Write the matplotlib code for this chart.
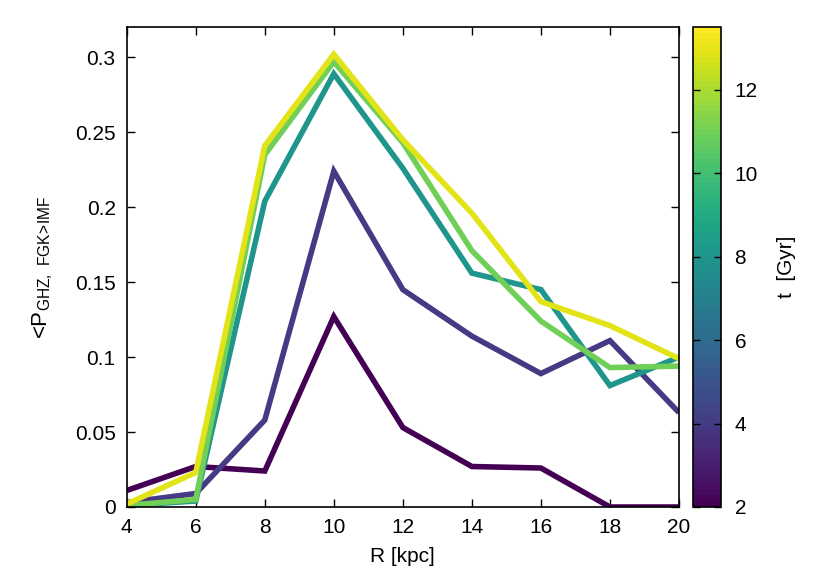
import matplotlib
matplotlib.use("Agg")
import matplotlib.pyplot as plt
import matplotlib as mpl
import numpy as np
from matplotlib.ticker import FuncFormatter

plt.rcParams['font.family'] = ['Liberation Sans', 'DejaVu Sans']
plt.rcParams['mathtext.fontset'] = 'custom'
plt.rcParams['mathtext.rm'] = 'Liberation Sans'

# dane
R = [4, 6, 8, 10, 12, 14, 16, 18, 20]
times = [2, 4, 8, 11, 13]  # Gyr
p_t2 = [0.011, 0.027, 0.024, 0.127, 0.053, 0.027, 0.026, 0.0, 0.0]
p_t4 = [0.003, 0.009, 0.058, 0.224, 0.145, 0.114, 0.089, 0.111, 0.063]
p_t8 = [0.001, 0.004, 0.204, 0.289, 0.226, 0.156, 0.145, 0.081, 0.100]
p_t11 = [0.001, 0.005, 0.235, 0.297, 0.243, 0.171, 0.124, 0.093, 0.094]
p_t13 = [0.002, 0.023, 0.241, 0.302, 0.245, 0.196, 0.137, 0.121, 0.099]
series = [p_t2, p_t4, p_t8, p_t11, p_t13]

T_MIN, T_MAX = 2, 13.5
FS = 15

fig = plt.figure(figsize=(8.3, 5.81), dpi=100)
ax = fig.add_axes([0.1527, 0.1274, 0.6653, 0.8256])
cax = fig.add_axes([0.8353, 0.1274, 0.033, 0.8256])

cmap = mpl.colormaps['viridis'].resampled(80)
norm = mpl.colors.Normalize(vmin=T_MIN, vmax=T_MAX)

for t, vals in zip(times, series):
    ax.plot(R, vals, color=mpl.colormaps['viridis'](norm(t)), lw=4.0,
            solid_joinstyle='miter', solid_capstyle='butt')

ax.set_xlim(4, 20)
ax.set_ylim(0, 0.32)
ax.set_xticks(np.arange(4, 21, 2))
ax.set_yticks(np.arange(0, 0.31, 0.05))
ax.yaxis.set_major_formatter(FuncFormatter(lambda v, _: f"{v:.3g}" if abs(v) > 1e-9 else "0"))
ax.tick_params(direction='in', top=True, right=True, labelsize=FS, length=6, width=1, pad=8)
for s in ax.spines.values():
    s.set_linewidth(1.2)
ax.set_xlabel("R [kpc]", fontsize=FS, labelpad=7)
ax.set_ylabel(r"<P$_\mathregular{GHZ,\ FGK\!{>}\!IMF}$", fontsize=FS + 1, labelpad=14)

cb = mpl.colorbar.ColorbarBase(cax, cmap=cmap, norm=norm, orientation='vertical')
cb.set_ticks([2, 4, 6, 8, 10, 12])
cb.outline.set_linewidth(1.2)
cax.tick_params(direction='in', left=True, right=True, labelsize=FS, length=5, width=1, pad=10)
cb.set_label("t  [Gyr]", fontsize=FS, labelpad=14)

fig.savefig("out.png", dpi=100)
